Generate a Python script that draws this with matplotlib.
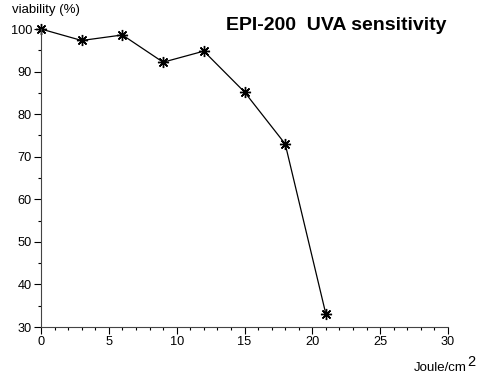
import matplotlib.pyplot as plt
from matplotlib.ticker import MultipleLocator

plt.rcParams['font.family'] = ['Liberation Sans', 'DejaVu Sans']

dose = [0, 3, 6, 9, 12, 15, 18, 21]
viability = [100, 97.3, 98.6, 92.2, 94.8, 85.2, 73.0, 33.0]
x_ticks = [0, 5, 10, 15, 20, 25, 30]
y_ticks = [30, 40, 50, 60, 70, 80, 90, 100]

fig = plt.figure(figsize=(4.82, 3.79), dpi=100)
ax = fig.add_axes([41 / 482, 1 - 327 / 379, 407 / 482, 298 / 379])

ax.plot(dose, viability, color='black', linewidth=0.9,
        marker=(8, 2, 0), markersize=8, markeredgewidth=1.0, clip_on=False)

ax.set_xlim(0, 30)
ax.set_ylim(30, 100)
ax.set_xticks(x_ticks)
ax.set_yticks(y_ticks)
ax.xaxis.set_minor_locator(MultipleLocator(1))
ax.yaxis.set_minor_locator(MultipleLocator(5))
ax.tick_params(which='major', direction='out', length=5, width=0.8,
               labelsize=9.2, pad=1.5)
ax.tick_params(which='minor', direction='out', length=2.5, width=0.8)
for side in ['top', 'right']:
    ax.spines[side].set_visible(False)
for side in ['left', 'bottom']:
    ax.spines[side].set_color('#444444')

fig.text(12 / 482, 1 - 10 / 379, 'viability (%)', fontsize=9.5,
         ha='left', va='center')
fig.text(467 / 482, 1 - 368 / 379, 'Joule/cm', fontsize=9.5,
         ha='right', va='center')
fig.text(467.5 / 482, 1 - 362 / 379, '2', fontsize=10.5,
         ha='left', va='center')
fig.text(447 / 482, 1 - 26 / 379, 'EPI-200  UVA sensitivity', fontsize=14,
         fontweight='bold', ha='right', va='center')

fig.savefig('out.png', dpi=100)
